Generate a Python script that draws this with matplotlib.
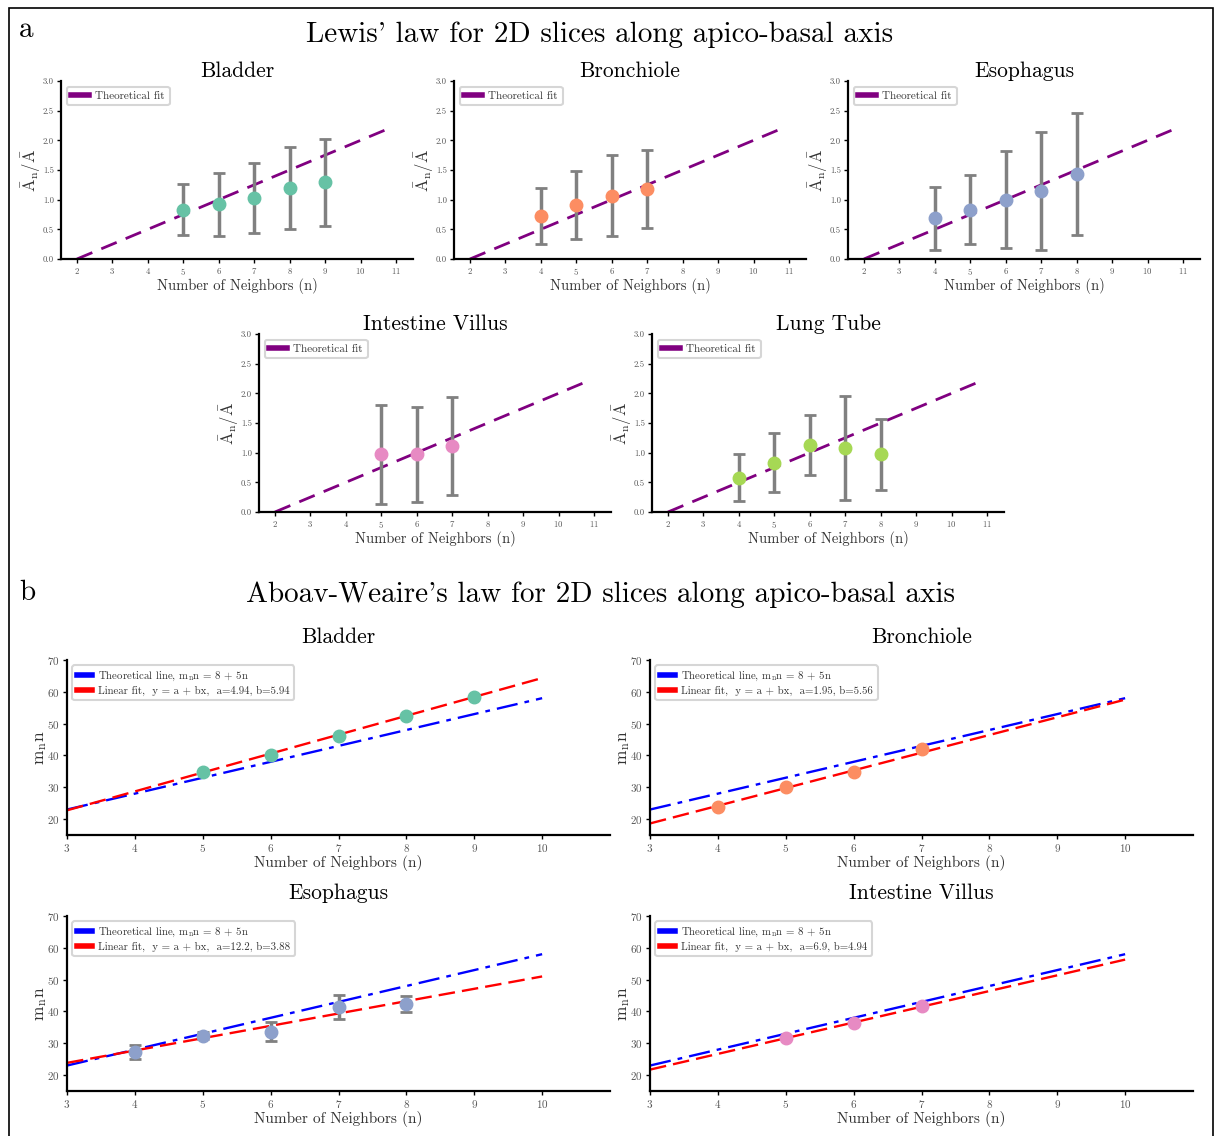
import matplotlib
matplotlib.use("Agg")
import matplotlib.pyplot as plt
import numpy as np
from matplotlib.lines import Line2D
from matplotlib.patches import Rectangle

plt.rcParams["font.family"] = ["cmr10", "DejaVu Serif"]
plt.rcParams["mathtext.fontset"] = "cm"
plt.rcParams["axes.formatter.use_mathtext"] = True

# ---- Lewis' law data (mean +- std of normalised area) ----
lewis_tissues = ["Bladder", "Bronchiole", "Esophagus", "Intestine Villus", "Lung Tube"]
lewis_colors = ["#66c2a5", "#fc8d62", "#8da0cb", "#e78ac3", "#a6d854"]
lewis_n = [
    [5, 6, 7, 8, 9],
    [4, 5, 6, 7],
    [4, 5, 6, 7, 8],
    [5, 6, 7],
    [4, 5, 6, 7, 8],
]
lewis_mean = [
    [0.83, 0.92, 1.03, 1.19, 1.29],
    [0.73, 0.91, 1.07, 1.18],
    [0.69, 0.83, 1.00, 1.15, 1.43],
    [0.97, 0.97, 1.11],
    [0.58, 0.83, 1.13, 1.08, 0.97],
]
lewis_std = [
    [0.43, 0.53, 0.59, 0.69, 0.73],
    [0.47, 0.57, 0.68, 0.65],
    [0.53, 0.58, 0.82, 0.99, 1.03],
    [0.84, 0.80, 0.83],
    [0.40, 0.50, 0.51, 0.88, 0.60],
]
lewis_line_n = [2, 10.9]

# ---- Aboav-Weaire's law data ----
aboav_tissues = ["Bladder", "Bronchiole", "Esophagus", "Intestine Villus"]
aboav_colors = ["#66c2a5", "#fc8d62", "#8da0cb", "#e78ac3"]
aboav_n = [
    [5, 6, 7, 8, 9],
    [4, 5, 6, 7],
    [4, 5, 6, 7, 8],
    [5, 6, 7],
]
aboav_mn = [
    [34.7, 40.1, 46.2, 52.5, 58.3],
    [23.7, 30.2, 34.7, 41.9],
    [27.3, 32.4, 33.7, 41.4, 42.3],
    [31.6, 36.4, 41.6],
]
aboav_err = [
    None,
    None,
    [2.3, 1.0, 3.0, 3.8, 2.5],
    None,
]
fit_a = [4.94, 1.95, 12.2, 6.9]
fit_b = [5.94, 5.56, 3.88, 4.94]
aboav_line_n = [3, 10]

W, H = 1217, 1136
fig = plt.figure(figsize=(W / 100, H / 100), dpi=100)


def px_axes(left, top, width, height):
    return fig.add_axes([left / W, 1 - (top + height) / H, width / W, height / H])


def style_axes(ax, tick_size):
    for side in ["top", "right"]:
        ax.spines[side].set_visible(False)
    for side in ["left", "bottom"]:
        ax.spines[side].set_linewidth(1.6)
        ax.spines[side].set_color("black")
    ax.tick_params(labelsize=tick_size, labelcolor="#555555", length=3, width=1, color="black", pad=2)


def legend_box(ax, handles, labels, size, hlen):
    leg = ax.legend(handles, labels, loc="upper left", fontsize=size, handlelength=hlen,
                    frameon=True, fancybox=True, borderpad=0.4, labelspacing=0.25,
                    handletextpad=0.6, bbox_to_anchor=(0.0, 1.0))
    leg.get_frame().set_edgecolor("#cccccc")
    leg.get_frame().set_linewidth(1.5)
    for t in leg.get_texts():
        t.set_color("#333333")


# ---- Part a: Lewis' law ----
lewis_pos = [(61, 81), (454, 81), (848, 81), (259, 334), (652, 334)]
for i, (left, top) in enumerate(lewis_pos):
    ax = px_axes(left, top, 352, 178)
    lx = np.array(lewis_line_n)
    ax.plot(lx, (lx - 2) / 4, color="purple", linestyle=(0, (6, 3.5)), linewidth=2.0, zorder=2)
    ax.errorbar(lewis_n[i], lewis_mean[i], yerr=lewis_std[i], fmt="none", ecolor="gray",
                elinewidth=2.5, capsize=4, capthick=2, zorder=3)
    ax.plot(lewis_n[i], lewis_mean[i], "o", color=lewis_colors[i], markersize=9, zorder=4)
    ax.set_xlim(1.55, 11.48)
    ax.set_ylim(0, 3)
    ax.set_xticks(range(2, 12))
    ax.set_yticks(np.arange(0, 3.01, 0.5))
    ax.yaxis.set_major_formatter(matplotlib.ticker.FormatStrFormatter("%.1f"))
    style_axes(ax, 6.3)
    ax.set_title(lewis_tissues[i], fontsize=15.5, pad=2)
    ax.set_xlabel("Number of Neighbors (n)", fontsize=10.5, color="#333333", labelpad=1)
    ax.set_ylabel(r"$\bar{\rm A}_{\rm n}/\bar{\rm A}$", fontsize=12, color="#333333", labelpad=0)
    legend_box(ax, [Line2D([], [], color="purple", linewidth=4)], ["Theoretical fit"], 8, 1.6)

# ---- Part b: Aboav-Weaire's law ----
aboav_pos = [(67, 660), (650, 660), (67, 916), (650, 916)]
for i, (left, top) in enumerate(aboav_pos):
    ax = px_axes(left, top, 543, 175)
    lx = np.array(aboav_line_n)
    ax.plot(lx, 8 + 5 * lx, color="blue", linestyle=(0, (9, 3, 2, 3)), linewidth=1.7, zorder=2)
    ax.plot(lx, fit_a[i] + fit_b[i] * lx, color="red", linestyle=(0, (7, 3)), linewidth=1.7, zorder=2)
    if aboav_err[i] is not None:
        ax.errorbar(aboav_n[i], aboav_mn[i], yerr=aboav_err[i], fmt="none", ecolor="gray",
                    elinewidth=2.5, capsize=4, capthick=2, zorder=3)
    ax.plot(aboav_n[i], aboav_mn[i], "o", color=aboav_colors[i], markersize=9, zorder=4)
    ax.set_xlim(3, 11)
    ax.set_ylim(15, 70)
    ax.set_xticks(range(3, 11))
    ax.set_yticks(range(20, 71, 10))
    style_axes(ax, 8)
    ax.set_title(aboav_tissues[i], fontsize=15.5, pad=12)
    ax.set_xlabel("Number of Neighbors (n)", fontsize=11, color="#333333", labelpad=1)
    ax.set_ylabel(r"m$_{\rm n}$n", fontsize=12.5, color="#333333", labelpad=-1)
    labels = [
        r"Theoretical line, m$_{\rm n}$n = 8 + 5n",
        "Linear fit,  y = a + bx,  a=%s, b=%s" % (fit_a[i], fit_b[i]),
    ]
    handles = [Line2D([], [], color="blue", linewidth=4), Line2D([], [], color="red", linewidth=4)]
    legend_box(ax, handles, labels, 7.8, 1.4)

fig.text(600 / W, 1 - 35 / H, "Lewis' law for 2D slices along apico-basal axis",
         fontsize=21, ha="center", va="center")
fig.text(600 / W, 1 - 595 / H, "Aboav-Weaire's law for 2D slices along apico-basal axis",
         fontsize=21, ha="center", va="center")
fig.text(19 / W, 1 - 30 / H, "a", fontsize=21, ha="left", va="center")
fig.text(19 / W, 1 - 593 / H, "b", fontsize=21, ha="left", va="center")

fig.patches.append(Rectangle((9 / W, -0.02), (1213 - 9) / W, 1 - 8 / H + 0.02,
                             transform=fig.transFigure, fill=False, edgecolor="black",
                             linewidth=1.2))

fig.savefig("out.png", dpi=100)
